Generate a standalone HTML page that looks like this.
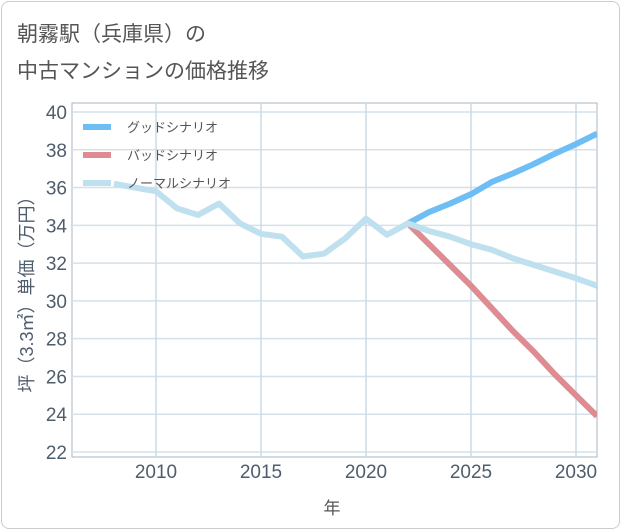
<!DOCTYPE html>
<html><head><meta charset="utf-8"><style>
body{margin:0;background:#fff;font-family:"Liberation Sans","Noto Sans CJK JP",sans-serif}
#wrap{position:relative;width:621px;height:530px;overflow:hidden}
#frame{position:absolute;left:1px;top:1px;width:617px;height:526px;border:1px solid #ccc;border-radius:8px}
.t{position:absolute;left:17px;font-size:21px;color:#555;font-family:"Liberation Sans","Noto Sans CJK JP",sans-serif}
</style></head><body>
<div id="wrap">
<div id="frame"></div>
<div class="t" style="top:18px">朝霧駅（兵庫県）の</div>
<div class="t" style="top:55px">中古マンションの価格推移</div>
<svg id="svg" width="621" height="530" style="position:absolute;left:0;top:0"></svg>
</div>
<script>
const years=[2008,2009,2010,2011,2012,2013,2014,2015,2016,2017,2018,2019,2020,2021,2022,2023,2024,2025,2026,2027,2028,2029,2030,2031];
const normal=[36.2,36.0,35.8,34.9,34.55,35.15,34.1,33.55,33.4,32.35,32.5,33.3,34.35,33.5,34.1,33.7,33.4,33.0,32.7,32.25,31.9,31.55,31.2,30.8];
const goodYears=[2022,2023,2024,2025,2026,2027,2028,2029,2030,2031];
const good=[34.1,34.7,35.15,35.65,36.3,36.75,37.25,37.8,38.3,38.85];
const bad=[34.1,33.0,31.9,30.8,29.6,28.4,27.3,26.1,25.0,23.9];
const yTicks=[22,24,26,28,30,32,34,36,38,40];
const xTicks=[2010,2015,2020,2025,2030];
const L=72,R=597,T=103,B=457;
const x=v=>156+(v-2010)*21;
const y=v=>452-(v-22)*(340/18);
const svg=document.getElementById('svg');
const NS='http://www.w3.org/2000/svg';
function mk(tag,at,name,txt){const e=document.createElementNS(NS,tag);for(const k in at)e.setAttribute(k,at[k]);


if(txt!==undefined)e.textContent=txt;svg.appendChild(e);return e;}
mk('rect',{x:L,y:T,width:R-L,height:B-T,fill:'#fff',stroke:'#aab4bf','stroke-width':1},'plot-area');
yTicks.forEach(v=>{mk('line',{x1:L,x2:R,y1:y(v),y2:y(v),stroke:'#d4e0ea','stroke-width':1.5},'y-gridline');
mk('text',{x:L-5,y:y(v)+7,'text-anchor':'end','font-size':19,fill:'#4e5d6c'},'y-tick-label',v);});
xTicks.forEach(v=>{mk('line',{x1:x(v),x2:x(v),y1:T,y2:B,stroke:'#ccdbe6','stroke-width':1.5},'x-gridline');
mk('text',{x:x(v),y:B+21,'text-anchor':'middle','font-size':19,fill:'#4e5d6c'},'x-tick-label',v);});
function line(xs,vals,col,name){mk('polyline',{points:vals.map((v,i)=>x(xs[i])+','+y(v)).join(' '),fill:'none',stroke:col,'stroke-width':6,'stroke-linejoin':'round'},name);}
const cp=mk('clipPath',{id:'c'},'clip');const cr=document.createElementNS(NS,'rect');cr.setAttribute('x',L);cr.setAttribute('y',T);cr.setAttribute('width',R-L);cr.setAttribute('height',B-T);cp.appendChild(cr);
const g=mk('g',{'clip-path':'url(#c)'},'series-group');
line(goodYears,bad,'#de8c92','bad-scenario-line');
line(goodYears,good,'#6ebef5','good-scenario-line');
line(years,normal,'#bfe0ee','normal-scenario-line');
svg.querySelectorAll('polyline').forEach(p=>g.appendChild(p));
[['グッドシナリオ','#6ebef5',127],['バッドシナリオ','#de8c92',155],['ノーマルシナリオ','#bfe0ee',183]].forEach(([t,c,yy])=>{
mk('line',{x1:83,x2:111,y1:yy,y2:yy,stroke:c,'stroke-width':6},'legend-swatch');
mk('text',{x:127,y:yy+5,'font-size':13,fill:'#555'},'legend-label',t);});
mk('text',{x:332,y:514,'text-anchor':'middle','font-size':17,fill:'#555'},'x-axis-title','年');
mk('text',{x:0,y:0,transform:'translate(33,290) rotate(-90)','text-anchor':'middle','font-size':18,fill:'#4e5d6c'},'y-axis-title','坪（3.3㎡）単価（万円）');
</script>
</body></html>
